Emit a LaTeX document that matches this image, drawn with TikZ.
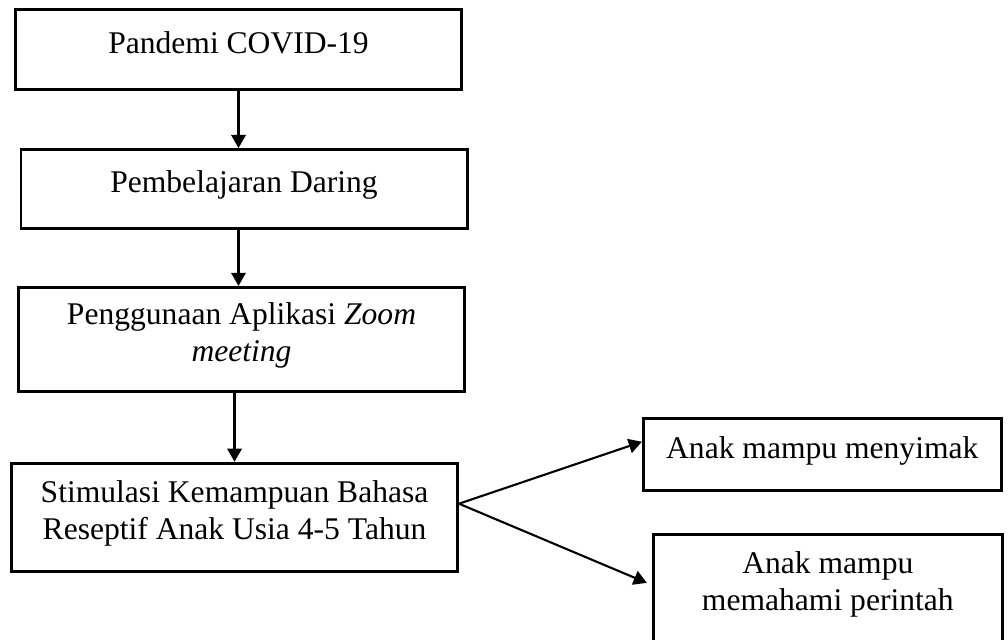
\documentclass[tikz,border=0pt]{standalone}
\usepackage{fontspec}
\setmainfont{Liberation Serif}
\usepackage{tikz}
\usetikzlibrary{positioning,calc,arrows.meta}
\tikzset{
  figfont/.style={font=\fontsize{12}{14}\selectfont},
  figbox/.style={draw, line width=1.1pt, align=center, inner sep=4pt, minimum width=169.5pt},
  figboxone/.style={figbox, text height=9pt, text depth=6pt},
  figboxtwo/.style={figbox, text height=23pt, text depth=6pt},
  figarrow/.style={-{Triangle[length=5pt, width=5.5pt]}, line width=0.8pt},
}

\begin{document}
\begin{tikzpicture}[figfont]
  \useasboundingbox (0,0) rectangle (383.04pt,-243.2pt);

  % Main chain, top to bottom
  \node[figboxone, minimum height=30.4pt] (pandemi) at (90.63pt,-18.81pt)
  {Pandemi COVID-19};
  \node[figboxone, below=21.7pt of pandemi, xshift=2.1pt, minimum height=30pt] (daring)
  {Pembelajaran Daring};
  \node[figboxtwo, below=21.3pt of daring, xshift=-0.95pt, minimum height=39.5pt] (zoom)
  {Penggunaan Aplikasi \textit{Zoom}\\ \textit{meeting}};
  \node[figboxtwo, below=26.2pt of zoom, xshift=-2.66pt, minimum height=41pt] (stimulasi)
  {Stimulasi Kemampuan Bahasa\\ Reseptif Anak Usia 4-5 Tahun};

  % Outcomes on the right
  \node[figboxone, right=69.5pt of stimulasi, yshift=23.9pt, minimum width=136pt, minimum height=27.4pt] (menyimak)
  {Anak mampu menyimak};
  \node[figboxtwo, right=73.3pt of stimulasi, yshift=-27pt, minimum width=132.6pt, minimum height=41pt] (perintah)
  {Anak mampu\\ memahami perintah};

  % Vertical arrows
  \draw[figarrow] (pandemi.south) -- (pandemi.south |- daring.north);
  \draw[figarrow] (daring.south -| pandemi.south) -- (zoom.north -| pandemi.south);
  \draw[figarrow] (zoom.south -| stimulasi.north) -- (stimulasi.north);

  % Fork to the outcomes
  \coordinate (fork) at ($(stimulasi.east)+(0,5.1pt)$);
  \coordinate (menyimak-in) at ($(menyimak.west)+(0,4.75pt)$);
  \coordinate (perintah-in) at ($(perintah.west)+(-1.9pt,2pt)$);
  \draw[figarrow] (fork) -- (menyimak-in);
  \draw[figarrow] (fork) -- (perintah-in);
\end{tikzpicture}
\end{document}
